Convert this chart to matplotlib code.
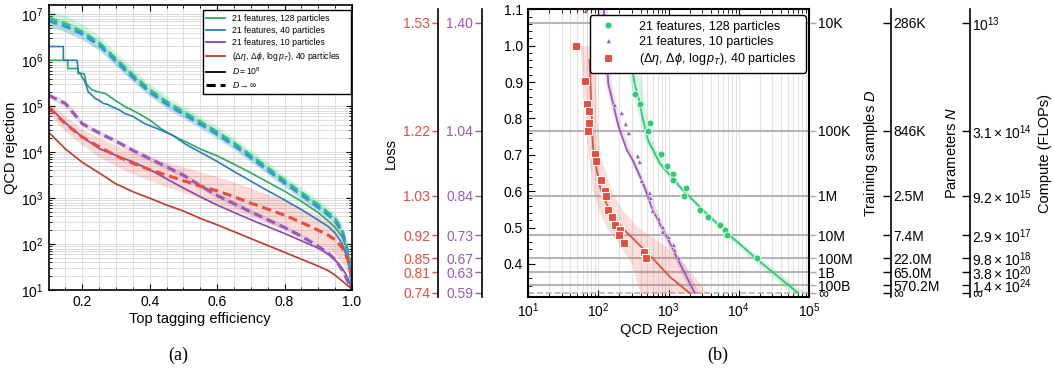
import numpy as np
import matplotlib
matplotlib.use('Agg')
import matplotlib.pyplot as plt
from matplotlib.ticker import MultipleLocator, LogLocator, NullLocator, NullFormatter
from matplotlib.lines import Line2D

plt.rcParams['font.family'] = ['Liberation Sans', 'DejaVu Sans']
plt.rcParams['mathtext.fontset'] = 'custom'
plt.rcParams['mathtext.rm'] = 'Liberation Sans'
plt.rcParams['mathtext.it'] = 'Liberation Sans:italic'
plt.rcParams['mathtext.bf'] = 'Liberation Sans:bold'

#Colours (flat palette, darker shade for the D=10^8 curves)
GREEN, GREEN_D = '#2ecc71', '#27ae60'
BLUE, BLUE_D = '#3498db', '#2980b9'
PURPLE, PURPLE_D = '#9b59b6', '#8e44ad'
RED, RED_D = '#e74c3c', '#c0392b'

# ---------------- panel (a) data : log10 of QCD rejection ----------------
eff = [0.10, 0.15, 0.20, 0.25, 0.30, 0.35, 0.40, 0.45, 0.50, 0.55, 0.60, 0.65,
       0.70, 0.75, 0.80, 0.85, 0.90, 0.93, 0.95, 0.97, 0.98, 0.99, 1.00]
green_inf = [6.92, 6.80, 6.62, 6.38, 6.03, 5.68, 5.36, 5.10, 4.88, 4.66, 4.44, 4.20,
             3.93, 3.66, 3.38, 3.12, 2.85, 2.68, 2.55, 2.32, 2.08, 1.75, 1.35]
blue_inf = [6.86, 6.74, 6.57, 6.33, 5.98, 5.63, 5.31, 5.05, 4.83, 4.61, 4.39, 4.15,
            3.88, 3.61, 3.33, 3.07, 2.80, 2.63, 2.50, 2.27, 2.02, 1.65, 1.15]
purple_inf = [5.24, 5.06, 4.62, 4.42, 4.24, 4.04, 3.86, 3.68, 3.50, 3.27, 3.06, 2.88,
              2.70, 2.53, 2.36, 2.17, 1.95, 1.80, 1.66, 1.45, 1.30, 1.15, 1.00]
red_inf = [4.98, 4.62, 4.33, 4.12, 3.92, 3.76, 3.62, 3.50, 3.38, 3.26, 3.16, 3.03,
           2.89, 2.76, 2.63, 2.47, 2.30, 2.19, 2.09, 1.93, 1.80, 1.60, 1.28]
purple_1e8 = [5.00, 4.64, 4.33, 4.08, 3.93, 3.79, 3.62, 3.42, 3.22, 3.03, 2.85, 2.69,
              2.53, 2.38, 2.23, 2.07, 1.91, 1.78, 1.65, 1.48, 1.37, 1.22, 1.00]
red_1e8 = [4.44, 4.07, 3.78, 3.55, 3.31, 3.14, 3.00, 2.85, 2.72, 2.56, 2.42, 2.27,
           2.12, 1.97, 1.82, 1.67, 1.52, 1.42, 1.32, 1.20, 1.14, 1.08, 1.02]
# band half widths (decades)
green_band = [0.18, 0.18, 0.17, 0.16, 0.15, 0.14, 0.13, 0.12, 0.12, 0.12, 0.12, 0.12,
              0.12, 0.12, 0.12, 0.12, 0.12, 0.12, 0.12, 0.12, 0.12, 0.12, 0.12]
blue_band = [0.12, 0.12, 0.11, 0.11, 0.10, 0.10, 0.10, 0.10, 0.10, 0.10, 0.10, 0.10,
             0.10, 0.10, 0.10, 0.10, 0.10, 0.10, 0.10, 0.10, 0.10, 0.10, 0.10]
purple_band = [0.07, 0.07, 0.06, 0.06, 0.06, 0.06, 0.06, 0.06, 0.06, 0.06, 0.06, 0.06,
               0.06, 0.06, 0.06, 0.06, 0.06, 0.06, 0.06, 0.06, 0.06, 0.06, 0.06]
red_band_lo = [4.85, 4.45, 4.15, 3.90, 3.70, 3.53, 3.38, 3.25, 3.12, 3.00, 2.88, 2.74,
               2.60, 2.46, 2.33, 2.17, 2.00, 1.88, 1.78, 1.60, 1.48, 1.32, 1.10]
red_band_hi = [5.10, 4.78, 4.50, 4.32, 4.15, 4.00, 3.88, 3.78, 3.68, 3.57, 3.47, 3.35,
               3.22, 3.09, 2.95, 2.79, 2.62, 2.52, 2.42, 2.25, 2.12, 1.90, 1.50]

# step-like D = 10^8 curves
green_eff = [0.10, 0.157, 0.157, 0.188, 0.188, 0.206, 0.21, 0.215, 0.228, 0.24, 0.255, 0.268,
             0.28, 0.297, 0.31, 0.327, 0.35, 0.377, 0.40, 0.436, 0.46, 0.485, 0.52, 0.55,
             0.60, 0.65, 0.70, 0.75, 0.80, 0.85, 0.90, 0.93, 0.95, 0.97, 0.98, 0.99, 1.0]
green_1e8 = [6.00, 6.00, 5.82, 5.82, 5.71, 5.71, 5.55, 5.46, 5.36, 5.33, 5.30, 5.28,
             5.22, 5.13, 5.07, 4.99, 4.91, 4.80, 4.70, 4.50, 4.40, 4.30, 4.18, 4.07,
             3.92, 3.74, 3.55, 3.35, 3.15, 2.93, 2.68, 2.50, 2.36, 2.16, 1.98, 1.72, 1.37]
blue_eff = [0.10, 0.144, 0.144, 0.185, 0.188, 0.195, 0.20, 0.206, 0.212, 0.218, 0.228, 0.238,
            0.25, 0.263, 0.275, 0.288, 0.31, 0.327, 0.35, 0.386, 0.42, 0.446, 0.47, 0.505,
            0.55, 0.60, 0.65, 0.70, 0.75, 0.80, 0.85, 0.90, 0.93, 0.95, 0.97, 0.98, 0.99, 1.0]
blue_1e8 = [6.30, 6.30, 6.00, 6.00, 5.75, 5.72, 5.62, 5.57, 5.45, 5.31, 5.25, 5.17,
            5.13, 5.06, 5.04, 4.99, 4.92, 4.84, 4.78, 4.62, 4.52, 4.44, 4.36, 4.18,
            4.00, 3.80, 3.58, 3.37, 3.16, 2.96, 2.75, 2.52, 2.38, 2.24, 2.02, 1.82, 1.55, 1.07]

# ---------------- panel (b) data ----------------
red_x = [47.7, 65.3, 69.8, 74.5, 74.5, 70.6, 90.6, 92.7, 108, 124, 131, 139, 158, 171,
         201, 195, 235, 447, 472]
red_y = [1.000, 0.902, 0.840, 0.820, 0.788, 0.766, 0.702, 0.683, 0.632, 0.601, 0.588,
         0.549, 0.529, 0.507, 0.494, 0.480, 0.457, 0.432, 0.416]
purple_x = [64, 169, 210, 240, 267, 355, 383, 408, 525, 543, 580, 714, 800, 815, 970,
            1150, 1200, 1350]
purple_y = [1.098, 0.839, 0.817, 0.787, 0.763, 0.700, 0.682, 0.630, 0.597, 0.584, 0.547,
            0.527, 0.503, 0.491, 0.478, 0.456, 0.442, 0.420]
green_x = [337, 392, 543, 509, 771, 960, 1167, 1167, 1750, 1655, 2800, 3670, 5380, 6460,
           6910, 17900]
green_y = [0.867, 0.840, 0.788, 0.766, 0.702, 0.669, 0.647, 0.630, 0.610, 0.587, 0.549,
           0.529, 0.506, 0.492, 0.479, 0.416]

red_fit_y = [0.96, 0.90, 0.85, 0.80, 0.75, 0.713, 0.658, 0.612, 0.575, 0.538, 0.501,
             0.465, 0.419, 0.364, 0.320]
red_fit_x = [75, 77, 79, 81, 83, 85, 95, 106, 124, 155, 215, 330, 572, 1050, 2000]
red_band_y = [1.00, 0.90, 0.80, 0.70, 0.60, 0.55, 0.50, 0.45, 0.40, 0.32]
red_band_l = [55, 60, 66, 72, 85, 100, 132, 205, 300, 390]
red_band_h = [95, 92, 95, 106, 155, 215, 370, 890, 1700, 3600]

purple_fit_y = [1.10, 0.896, 0.777, 0.713, 0.685, 0.621, 0.556, 0.501, 0.465, 0.410, 0.320]
purple_fit_x = [120, 139, 195, 255, 310, 436, 572, 795, 1000, 1375, 2370]
purple_band_y = [1.10, 0.90, 0.78, 0.70, 0.60, 0.50, 0.41, 0.32]
purple_band_l = [98, 125, 178, 265, 445, 740, 1240, 2050]
purple_band_h = [135, 152, 212, 310, 520, 870, 1530, 2750]

green_fit_y = [0.92, 0.892, 0.860, 0.795, 0.740, 0.676, 0.639, 0.603, 0.534, 0.474, 0.410, 0.320]
green_fit_x = [315, 333, 371, 437, 512, 755, 1100, 1600, 3670, 7930, 18900, 70000]
green_band_y = [0.92, 0.86, 0.80, 0.74, 0.68, 0.60, 0.53, 0.47, 0.41, 0.32]
green_band_l = [265, 320, 385, 460, 660, 1500, 3450, 7300, 16000, 56000]
green_band_h = [390, 440, 500, 580, 820, 1820, 4200, 9200, 22500, 87000]

# loss levels of the training-sample lines and the labels of all side axes
d_loss = [1.063, 0.766, 0.587, 0.479, 0.416, 0.377, 0.341, 0.320]
d_labels = ['10K', '100K', '1M', '10M', '100M', '1B', '100B', '∞']
n_labels = ['286K', '846K', '2.5M', '7.4M', '22.0M', '65.0M', '570.2M', '∞']
c_labels = [r'$10^{13}$', r'$3.1\times10^{14}$', r'$9.2\times10^{15}$', r'$2.9\times10^{17}$',
            r'$9.8\times10^{18}$', r'$3.8\times10^{20}$', r'$1.4\times10^{24}$', '∞']
loss_pos = [1.063, 0.766, 0.587, 0.479, 0.416, 0.377, 0.320]
loss_red = ['1.53', '1.22', '1.03', '0.92', '0.85', '0.81', '0.74']
loss_purple = ['1.40', '1.04', '0.84', '0.73', '0.67', '0.63', '0.59']

W, H = 1054, 379
fig = plt.figure(figsize=(W / 100, H / 100), dpi=100)

# ================= panel (a) =================
axa = fig.add_axes([48.5 / W, (H - 290) / H, 303.5 / W, 285 / H])
p = lambda v: np.power(10.0, np.array(v))
e = np.array(eff)
axa.fill_between(e, p(np.array(green_inf) - green_band), p(np.array(green_inf) + green_band),
                 color=GREEN, alpha=0.2, lw=0)
axa.fill_between(e, p(np.array(blue_inf) - blue_band), p(np.array(blue_inf) + blue_band),
                 color=BLUE, alpha=0.2, lw=0)
axa.fill_between(e, p(np.array(purple_inf) - purple_band), p(np.array(purple_inf) + purple_band),
                 color=PURPLE, alpha=0.2, lw=0)
axa.fill_between(e, p(red_band_lo), p(red_band_hi), color=RED, alpha=0.2, lw=0)

axa.plot(green_eff, p(green_1e8), color=GREEN_D, lw=1.2)
axa.plot(blue_eff, p(blue_1e8), color=BLUE_D, lw=1.2)
axa.plot(e, p(purple_1e8), color=PURPLE_D, lw=1.2)
axa.plot(e, p(red_1e8), color=RED_D, lw=1.2)
dash = (3, 1.6)
axa.plot(e, p(green_inf), color=GREEN, lw=2.2, dashes=dash)
axa.plot(e, p(blue_inf), color=BLUE, lw=2.2, dashes=dash)
axa.plot(e, p(purple_inf), color=PURPLE, lw=2.2, dashes=dash)
axa.plot(e, p(red_inf), color=RED, lw=2.2, dashes=dash)

axa.set_yscale('log')
axa.set_xlim(0.1, 1.0)
axa.set_ylim(10, 1.6e7)
axa.xaxis.set_major_locator(MultipleLocator(0.2))
axa.xaxis.set_minor_locator(MultipleLocator(0.05))
axa.yaxis.set_major_locator(LogLocator(base=10, numticks=10))
axa.yaxis.set_minor_locator(LogLocator(base=10, subs=np.arange(2, 10), numticks=20))
axa.yaxis.set_minor_formatter(NullFormatter())
axa.grid(True, which='both', color='#dddddd', lw=0.7)
axa.set_axisbelow(True)
axa.tick_params(which='both', direction='in', top=True, right=True, labelsize=10)
axa.tick_params(which='major', length=4)
axa.tick_params(which='minor', length=2)
axa.set_xlabel('Top tagging efficiency', fontsize=10.5, labelpad=2)
axa.set_ylabel('QCD rejection', fontsize=10.5, labelpad=2)
for s in axa.spines.values():
    s.set_linewidth(1.2)

handles_a = [Line2D([], [], color=GREEN_D, lw=1.3),
             Line2D([], [], color=BLUE_D, lw=1.3),
             Line2D([], [], color=PURPLE_D, lw=1.3),
             Line2D([], [], color=RED_D, lw=1.3),
             Line2D([], [], color='black', lw=1.3),
             Line2D([], [], color='black', lw=2.2, dashes=dash)]
labels_a = ['21 features, 128 particles', '21 features, 40 particles',
            '21 features, 10 particles',
            r'$(\Delta\eta,\,\Delta\phi,\,\log p_T)$, 40 particles',
            r'$D = 10^8$', r'$D \to \infty$']
axa.legend(handles_a, labels_a, loc='upper left', bbox_to_anchor=(0.509, 0.705, 0.488, 0.277),
           mode='expand', borderaxespad=0, fontsize=6.2, frameon=True, fancybox=False,
           edgecolor='black', framealpha=1, handlelength=2.2, labelspacing=0.35)

# ================= panel (b) =================
axb = fig.add_axes([528 / W, (H - 297) / H, 281 / W, 287.7 / H])
axb.set_xscale('log')
axb.set_xlim(10, 1e5)
axb.set_ylim(0.309, 1.1)
axb.grid(True, which='both', axis='x', color='#e2e2e2', lw=0.8)
axb.set_axisbelow(True)
for y in d_loss[:-1]:
    axb.axhline(y, color='#b5b5b5', lw=1.5, zorder=1)
axb.axhline(d_loss[-1], color='#b5b5b5', lw=1.2, ls='--', zorder=1)

axb.fill_betweenx(red_band_y, red_band_l, red_band_h, color=RED, alpha=0.18, lw=0)
axb.fill_betweenx(purple_band_y, purple_band_l, purple_band_h, color=PURPLE, alpha=0.18, lw=0)
axb.fill_betweenx(green_band_y, green_band_l, green_band_h, color=GREEN, alpha=0.18, lw=0)
axb.plot(red_fit_x, red_fit_y, color=RED, lw=1.3)
axb.plot(purple_fit_x, purple_fit_y, color=PURPLE, lw=1.3)
axb.plot(green_fit_x, green_fit_y, color=GREEN, lw=1.3)
axb.plot(green_x, green_y, 'o', color=GREEN, ms=5, mec='white', mew=0.6, ls='none',
         label='21 features, 128 particles')
axb.plot(purple_x, purple_y, '^', color=PURPLE, ms=3.6, mec='white', mew=0.4, ls='none',
         label='21 features, 10 particles')
axb.plot(red_x, red_y, 's', color=RED, ms=5.5, mec='white', mew=0.8, ls='none',
         label=r'$(\Delta\eta,\,\Delta\phi,\,\log p_T)$, 40 particles')

axb.yaxis.set_major_locator(MultipleLocator(0.1))
axb.yaxis.set_minor_locator(MultipleLocator(0.02))
axb.xaxis.set_major_locator(LogLocator(base=10, numticks=10))
axb.xaxis.set_minor_locator(LogLocator(base=10, subs=np.arange(2, 10), numticks=20))
axb.xaxis.set_minor_formatter(NullFormatter())
axb.tick_params(which='both', direction='in', top=True, right=False, labelsize=10)
axb.tick_params(which='major', length=5)
axb.tick_params(which='minor', length=3)
axb.set_xlabel('QCD Rejection', fontsize=10.5, labelpad=2)
for s in axb.spines.values():
    s.set_linewidth(1.5)
axb.legend(loc='upper left', bbox_to_anchor=(0.22, 0.76, 0.769, 0.22), mode='expand',
           borderaxespad=0, fontsize=9, frameon=True, fancybox=True, edgecolor='black',
           framealpha=1, handletextpad=1.5, labelspacing=0.25, borderpad=0.45)


def side_axis(pos, side, ticks, labels, color, direction, length, label, labelpad):
    ax = axb.twinx()
    ax.set_ylim(axb.get_ylim())
    for s in ['top', 'bottom', 'left', 'right']:
        ax.spines[s].set_visible(False)
    ax.spines[side].set_visible(True)
    ax.spines[side].set_linewidth(1.2)
    if side == 'left':
        ax.yaxis.set_ticks_position('left')
        ax.yaxis.set_label_position('left')
    if pos is not None:
        ax.spines[side].set_position(('axes', pos))
    ax.yaxis.set_minor_locator(NullLocator())
    ax.set_yticks(ticks)
    ax.set_yticklabels(labels)
    ax.tick_params(axis='y', direction=direction, length=length, width=1, color=color,
                   labelcolor=color if color != '#aaaaaa' else 'black', labelsize=10, pad=1.5)
    if label:
        ax.set_ylabel(label, fontsize=10.5, labelpad=labelpad)
    return ax


side_axis(None, 'right', d_loss, d_labels, '#aaaaaa', 'out', 5, 'Training samples $D$', 7)
side_axis(1.292, 'right', d_loss, n_labels, 'black', 'in', 6, 'Parameters $N$', 4)
side_axis(1.573, 'right', d_loss, c_labels, 'black', 'in', 6, 'Compute (FLOPs)', 4)
side_axis(-0.321, 'left', loss_pos, loss_red, RED, 'out', 4, 'Loss', 4)
axl2 = side_axis(-0.163, 'left', loss_pos, loss_purple, PURPLE, 'out', 5, None, 0)

fig.text(178 / W, 1 - 355 / H, '(a)', family='Liberation Serif', fontsize=13,
         ha='center', va='center')
fig.text(718 / W, 1 - 355 / H, '(b)', family='Liberation Serif', fontsize=13,
         ha='center', va='center')

fig.savefig('out.png', dpi=100)
